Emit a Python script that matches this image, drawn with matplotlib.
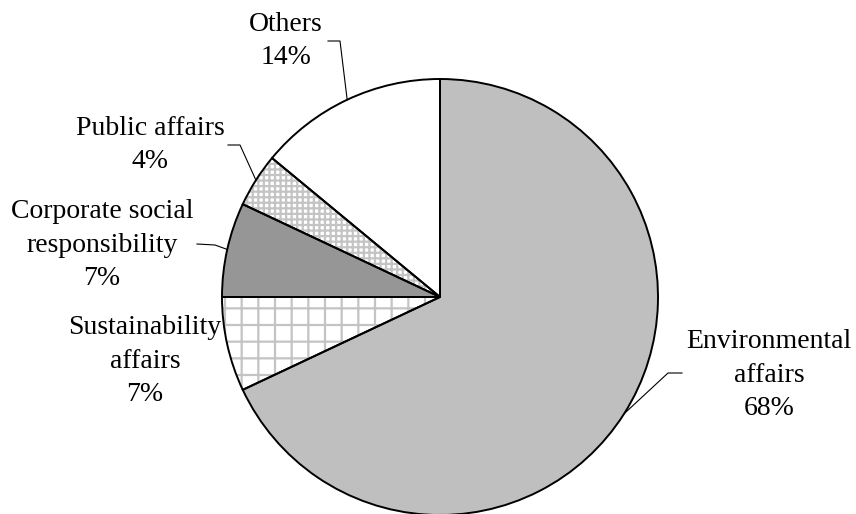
import numpy as np
import matplotlib
matplotlib.use("Agg")
import matplotlib.pyplot as plt

# ── データ ──────────────────────────────────
labels = ["Environmental\naffairs", "Sustainability\naffairs",
          "Corporate social\nresponsibility", "Public affairs", "Others"]
shares = [68, 7, 7, 4, 14]
fills = ["#bfbfbf", "white", "#969696", "white", "white"]
hatches = [None, "+", None, "+++", None]

# ラベル配置（ピクセル、左上原点）と引き出し線の折れ点
label_pos = [(769, 375), (145, 361), (102, 245), (150, 145), (286, 41)]
leader_pts = [[(682, 373), (668, 373)], None,
              [(197, 244), (215, 245)], [(228, 145), (240, 145)],
              [(328, 41), (340, 41)]]

W, H = 856, 514
CX, CY, R = 440, 297, 218

plt.rcParams["font.family"] = ["Liberation Serif", "DejaVu Serif"]
plt.rcParams["hatch.linewidth"] = 1.6
plt.rcParams["hatch.color"] = "#c4c4c4"

fig = plt.figure(figsize=(W / 100, H / 100), dpi=100)
ax = fig.add_axes([(CX - R) / W, (H - CY - R) / H, 2 * R / W, 2 * R / H])

# 塗り＋ハッチ
wedges, _ = ax.pie(shares, startangle=90, counterclock=False, colors=fills,
                   radius=1, wedgeprops=dict(linewidth=0, edgecolor="#c4c4c4"))
for w, h in zip(wedges, hatches):
    if h:
        w.set_hatch(h)
    w.set_clip_on(False)

# 輪郭線
outline, _ = ax.pie(shares, startangle=90, counterclock=False, radius=1,
                    wedgeprops=dict(fill=False, linewidth=1.4, edgecolor="black"))
for w in outline:
    w.set_clip_on(False)

ax.set_xlim(-1, 1)
ax.set_ylim(-1, 1)
ax.set_aspect("equal")
ax.axis("off")


def to_data(px, py):
    return (px - CX) / R, (CY - py) / R


for w, lab, pct, pos, lead in zip(wedges, labels, shares, label_pos, leader_pts):
    tx, ty = to_data(*pos)
    ax.text(tx, ty, f"{lab}\n{pct}%", ha="center", va="center",
            fontsize=20, linespacing=1.45, clip_on=False)
    if lead:
        mid = np.deg2rad((w.theta1 + w.theta2) / 2)
        pts = [to_data(*p) for p in lead] + [(np.cos(mid), np.sin(mid))]
        xs, ys = zip(*pts)
        ax.plot(xs, ys, color="black", linewidth=0.8, clip_on=False)

fig.savefig("out.png", dpi=100)
